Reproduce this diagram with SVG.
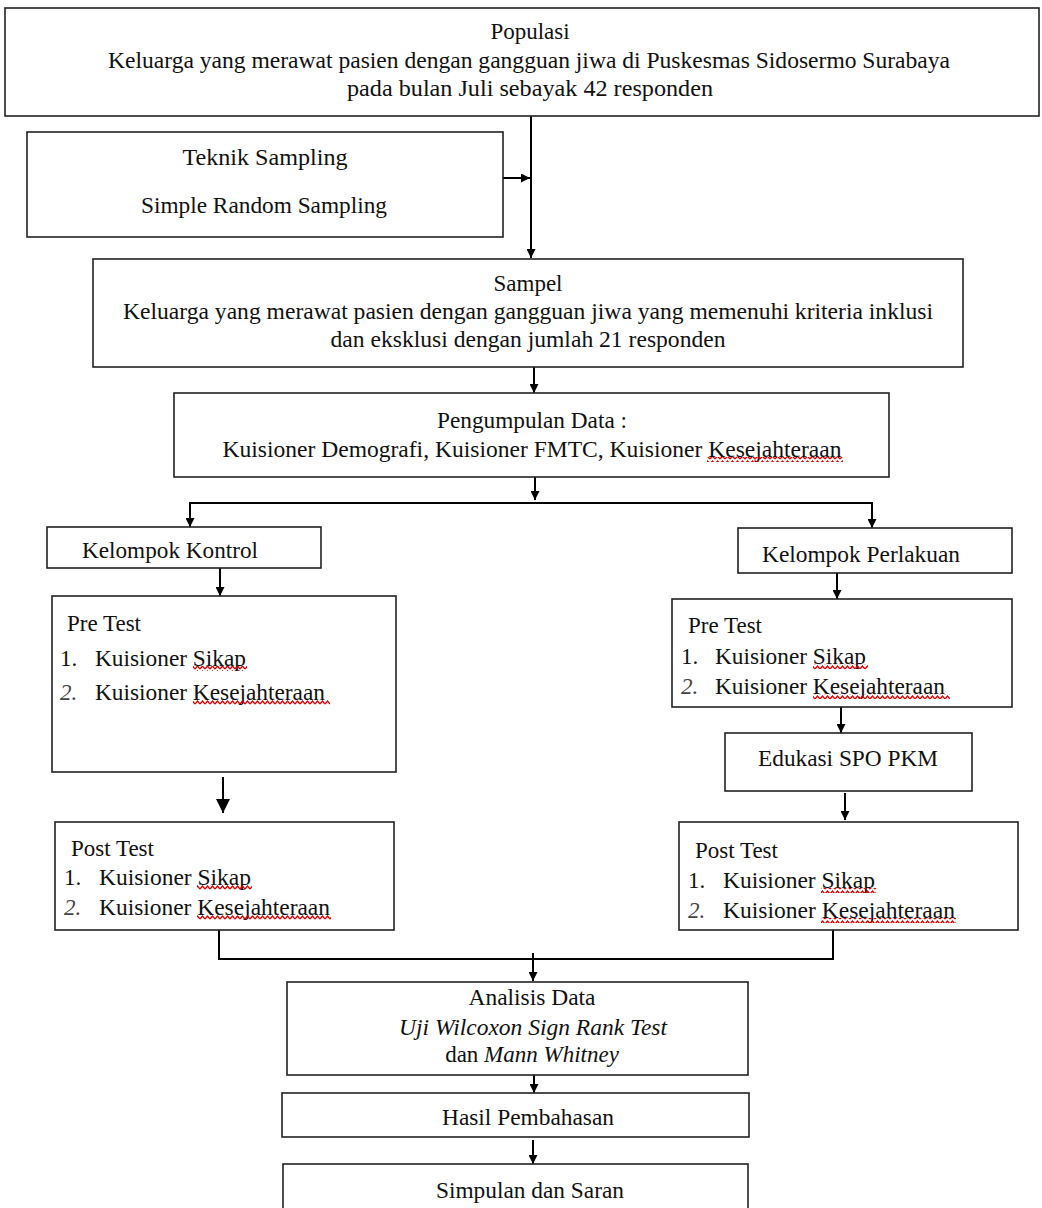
<svg xmlns="http://www.w3.org/2000/svg" width="1042" height="1208" viewBox="0 0 1042 1208">
<style>
.box{fill:#fff;stroke:#222;stroke-width:1.6}
.t{font-family:"Liberation Serif","Times New Roman",serif;font-size:23px;fill:#111}
.c{text-anchor:middle}
.i{font-style:italic}
.n2{font-style:italic;fill:#444}
.ln{fill:none;stroke:#000;stroke-width:2}
.sq{fill:url(#wave)}
</style>
<defs>
<marker id="ah" markerUnits="userSpaceOnUse" markerWidth="9" markerHeight="9" refX="9" refY="4.5" orient="auto"><path d="M0,0 L9,4.5 L0,9 z" fill="#000"/></marker>
<marker id="ahb" markerUnits="userSpaceOnUse" markerWidth="14" markerHeight="14" refX="14" refY="7" orient="auto"><path d="M0,0 L14,7 L0,14 z" fill="#000"/></marker>
<pattern id="wave" patternUnits="userSpaceOnUse" width="5" height="5"><path d="M0,4 L2.5,1 L5,4" fill="none" stroke="#d00" stroke-width="1.3"/></pattern>
</defs>
<rect width="1042" height="1208" fill="#fff"/>

<g id="connectors">
<path class="ln" d="M531,116 V258" marker-end="url(#ah)"/>
<path class="ln" d="M503,178 H530" marker-end="url(#ah)"/>
<path class="ln" d="M534,367 V393" marker-end="url(#ah)"/>
<path class="ln" d="M535,477 V500" marker-end="url(#ah)"/>
<path class="ln" d="M531,503 H190 V527" marker-end="url(#ah)"/>
<path class="ln" d="M531,503 H872 V528" marker-end="url(#ah)"/>
<path class="ln" d="M220,568 V596" marker-end="url(#ah)"/>
<path class="ln" d="M223,777 V813" stroke-width="3" marker-end="url(#ahb)"/>
<path class="ln" d="M837,573 V599" marker-end="url(#ah)"/>
<path class="ln" d="M841,707 V733" marker-end="url(#ah)"/>
<path class="ln" d="M845,793 V820" marker-end="url(#ah)"/>
<path class="ln" d="M219,930 V959 H833 V930"/>
<path class="ln" d="M533,953 V981" marker-end="url(#ah)"/>
<path class="ln" d="M534,1074 V1093" marker-end="url(#ah)"/>
<path class="ln" d="M533,1140 V1164" marker-end="url(#ah)"/>
</g>

<g id="populasi">
<rect class="box" x="5" y="8" width="1034" height="108"/>
<text class="t c" x="530" y="39">Populasi</text>
<text class="t c" x="529" y="68" textLength="842" lengthAdjust="spacingAndGlyphs">Keluarga yang merawat pasien dengan gangguan jiwa di Puskesmas Sidosermo Surabaya</text>
<text class="t c" x="530" y="96" textLength="366" lengthAdjust="spacingAndGlyphs">pada bulan Juli sebayak 42 responden</text>
</g>

<g id="teknik">
<rect class="box" x="27" y="132" width="476" height="105"/>
<text class="t c" x="265" y="165" textLength="165" lengthAdjust="spacingAndGlyphs">Teknik Sampling</text>
<text class="t c" x="264" y="213" textLength="246" lengthAdjust="spacingAndGlyphs">Simple Random Sampling</text>
</g>

<g id="sampel">
<rect class="box" x="93" y="259" width="870" height="108"/>
<text class="t c" x="528" y="291">Sampel</text>
<text class="t c" x="528" y="319" textLength="810" lengthAdjust="spacingAndGlyphs">Keluarga yang merawat pasien dengan gangguan jiwa yang memenuhi kriteria inklusi</text>
<text class="t c" x="528" y="347" textLength="395" lengthAdjust="spacingAndGlyphs">dan eksklusi dengan jumlah 21 responden</text>
</g>

<g id="pengumpulan">
<rect class="box" x="174" y="393" width="715" height="84"/>
<text class="t c" x="532" y="428" textLength="190" lengthAdjust="spacingAndGlyphs">Pengumpulan Data :</text>
<text class="t c" x="532" y="457" textLength="619" lengthAdjust="spacingAndGlyphs">Kuisioner Demografi, Kuisioner FMTC, Kuisioner Kesejahteraan</text>
<rect class="sq" x="707" y="457" width="136" height="5"/>
</g>

<g id="kontrol">
<rect class="box" x="47" y="527" width="274" height="41"/>
<text class="t" x="82" y="558" textLength="176" lengthAdjust="spacingAndGlyphs">Kelompok Kontrol</text>
</g>

<g id="pretest-kontrol">
<rect class="box" x="52" y="596" width="344" height="176"/>
<text class="t" x="67" y="631">Pre Test</text>
<text class="t" x="60" y="666">1.</text>
<text class="t" x="95" y="666" textLength="151" lengthAdjust="spacingAndGlyphs">Kuisioner Sikap</text>
<rect class="sq" x="193" y="666" width="54" height="5"/>
<text class="t n2" x="60" y="700">2.</text>
<text class="t" x="95" y="700" textLength="230" lengthAdjust="spacingAndGlyphs">Kuisioner Kesejahteraan</text>
<rect class="sq" x="193" y="700" width="137" height="5"/>
</g>

<g id="posttest-kontrol">
<rect class="box" x="55" y="822" width="339" height="108"/>
<text class="t" x="71" y="856">Post Test</text>
<text class="t" x="64" y="885">1.</text>
<text class="t" x="99" y="885" textLength="152" lengthAdjust="spacingAndGlyphs">Kuisioner Sikap</text>
<rect class="sq" x="197" y="885" width="55" height="5"/>
<text class="t n2" x="64" y="915">2.</text>
<text class="t" x="99" y="915" textLength="231" lengthAdjust="spacingAndGlyphs">Kuisioner Kesejahteraan</text>
<rect class="sq" x="197" y="915" width="134" height="5"/>
</g>

<g id="perlakuan">
<rect class="box" x="738" y="528" width="274" height="45"/>
<text class="t" x="762" y="562" textLength="198" lengthAdjust="spacingAndGlyphs">Kelompok Perlakuan</text>
</g>

<g id="pretest-perlakuan">
<rect class="box" x="672" y="599" width="340" height="108"/>
<text class="t" x="688" y="633">Pre Test</text>
<text class="t" x="681" y="664">1.</text>
<text class="t" x="715" y="664" textLength="151" lengthAdjust="spacingAndGlyphs">Kuisioner Sikap</text>
<rect class="sq" x="813" y="664" width="55" height="5"/>
<text class="t n2" x="681" y="694">2.</text>
<text class="t" x="715" y="694" textLength="230" lengthAdjust="spacingAndGlyphs">Kuisioner Kesejahteraan</text>
<rect class="sq" x="813" y="694" width="137" height="5"/>
</g>

<g id="edukasi">
<rect class="box" x="725" y="733" width="247" height="58"/>
<text class="t c" x="848" y="766" textLength="180" lengthAdjust="spacingAndGlyphs">Edukasi SPO PKM</text>
</g>

<g id="posttest-perlakuan">
<rect class="box" x="679" y="822" width="339" height="108"/>
<text class="t" x="695" y="858">Post Test</text>
<text class="t" x="688" y="888">1.</text>
<text class="t" x="723" y="888" textLength="152" lengthAdjust="spacingAndGlyphs">Kuisioner Sikap</text>
<rect class="sq" x="821" y="888" width="55" height="5"/>
<text class="t n2" x="688" y="918">2.</text>
<text class="t" x="723" y="918" textLength="232" lengthAdjust="spacingAndGlyphs">Kuisioner Kesejahteraan</text>
<rect class="sq" x="821" y="918" width="135" height="5"/>
</g>

<g id="analisis">
<rect class="box" x="287" y="982" width="461" height="93"/>
<text class="t c" x="532" y="1005" textLength="127" lengthAdjust="spacingAndGlyphs">Analisis Data</text>
<text class="t c i" x="533" y="1035" textLength="268" lengthAdjust="spacingAndGlyphs">Uji Wilcoxon Sign Rank Test</text>
<text class="t c" x="532" y="1062">dan <tspan class="i">Mann Whitney</tspan></text>
</g>

<g id="hasil">
<rect class="box" x="282" y="1093" width="467" height="44"/>
<text class="t c" x="528" y="1125" textLength="172" lengthAdjust="spacingAndGlyphs">Hasil Pembahasan</text>
</g>

<g id="simpulan">
<rect class="box" x="283" y="1164" width="465" height="60"/>
<text class="t c" x="530" y="1198" textLength="188" lengthAdjust="spacingAndGlyphs">Simpulan dan Saran</text>
</g>
</svg>
